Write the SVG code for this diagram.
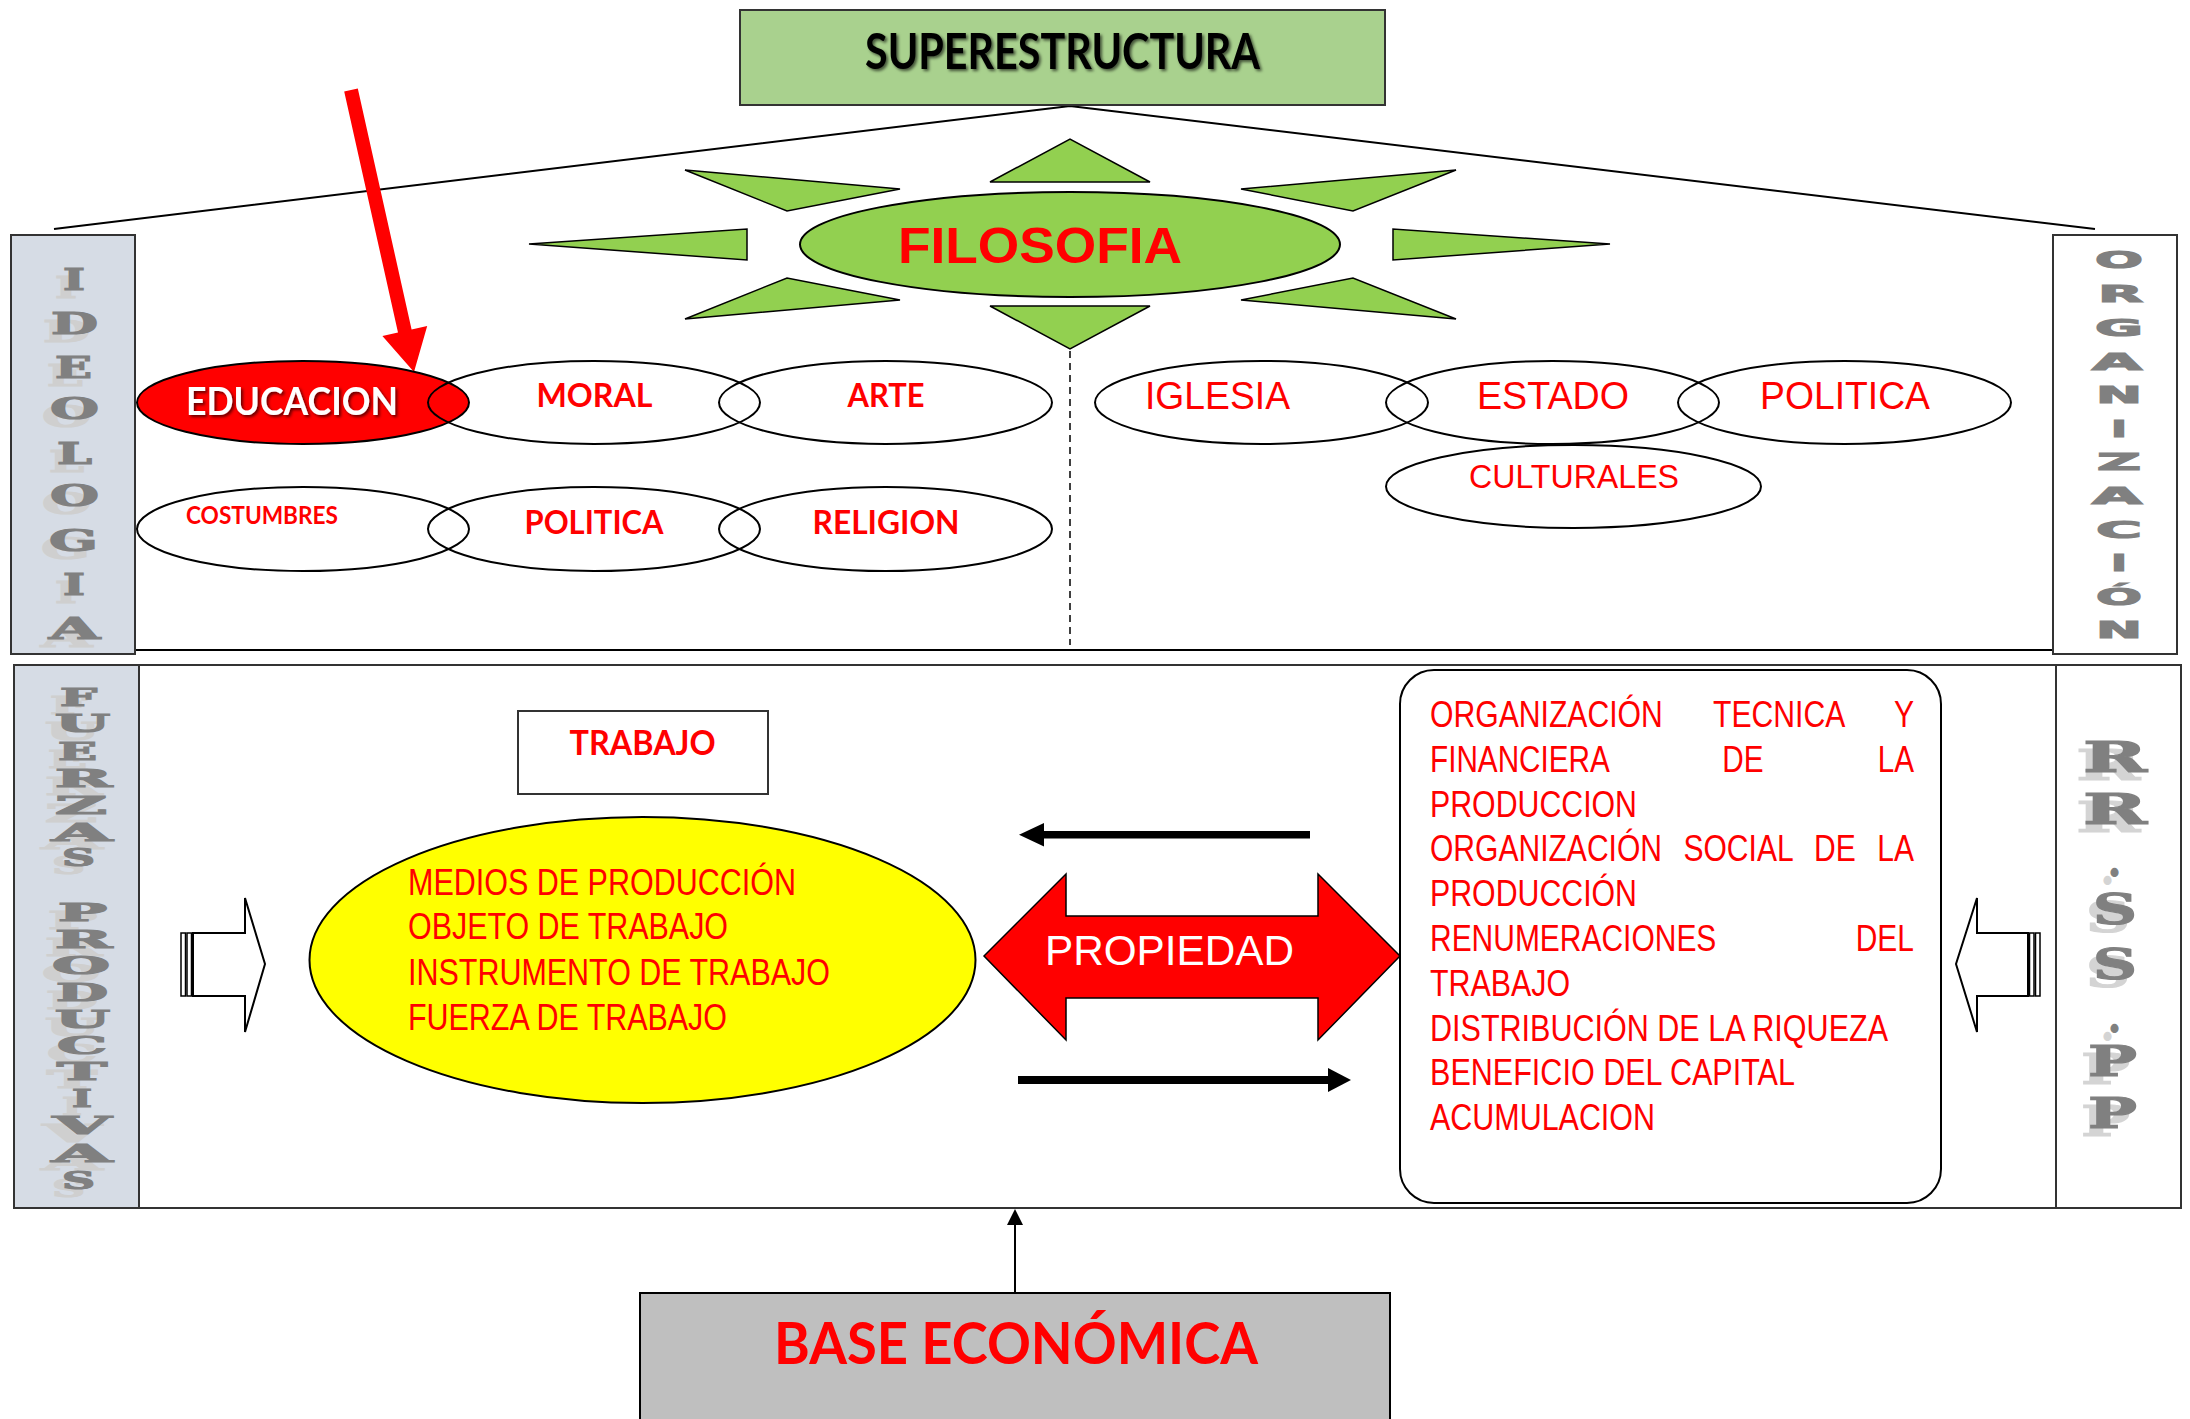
<svg xmlns="http://www.w3.org/2000/svg" xmlns:xlink="http://www.w3.org/1999/xlink" width="2190" height="1419" viewBox="0 0 2190 1419">
<style>
.ln{fill:none;stroke:#000;stroke-width:2}
.el{fill:none;stroke:#000;stroke-width:2}
.ray{fill:#92d050;stroke:#000;stroke-width:1.5;stroke-linejoin:miter}
.cal{font-family:Lato,"Liberation Sans",sans-serif;font-weight:bold}
.ari{font-family:"Liberation Sans",Arial,sans-serif}
.nar{font-family:"Liberation Sans Narrow","Liberation Sans",Arial,sans-serif}
.red{fill:#ff0000}
.slab{font-family:"DejaVu Serif","Liberation Serif",serif;font-weight:bold}
.blk{font-family:"DejaVu Sans","Liberation Sans",sans-serif;font-weight:bold}
</style>
<defs>
<filter id="sh" x="-10%" y="-30%" width="120%" height="160%">
<feDropShadow dx="2" dy="2" stdDeviation="1.5" flood-color="#000" flood-opacity="0.6"/>
</filter>
</defs>
<rect width="2190" height="1419" fill="#fff"/>

<g id="connectors">
<polyline class="ln" points="54,229 1070,106 2095,229"/>
<line x1="1070" y1="351" x2="1070" y2="645" stroke="#000" stroke-width="1.5" stroke-dasharray="7,5"/>
<line x1="135" y1="650" x2="2053" y2="650" stroke="#000" stroke-width="2"/>
<polygon fill="#ff0000" points="344.2,91.5 357.8,88.5 411.6,329.5 427.2,326 414,372 382.4,336 398,332.5"/>
<line x1="1015" y1="1293" x2="1015" y2="1222" stroke="#000" stroke-width="2"/>
<polygon fill="#000" points="1015,1209 1007,1225 1023,1225"/>
<rect x="1042" y="831" width="268" height="7.5" fill="#000"/>
<polygon fill="#000" points="1019,834.7 1044,823 1044,846.5"/>
<rect x="1018" y="1076" width="312" height="8" fill="#000"/>
<polygon fill="#000" points="1328,1068 1351,1080 1328,1092"/>
</g>

<g id="superestructura">
<rect x="740" y="10" width="645" height="95" fill="#a9d18e" stroke="#333" stroke-width="2"/>
<text class="cal" x="865" y="69" font-size="49" textLength="395" lengthAdjust="spacingAndGlyphs" fill="#000" filter="url(#sh)">SUPERESTRUCTURA</text>
</g>

<g id="filosofia">
<polygon class="ray" points="990,182 1070,139 1150,182"/>
<polygon class="ray" points="990,306 1070,349 1150,306"/>
<polygon class="ray" points="529,244 747,229 747,260"/>
<polygon class="ray" points="1610,244 1393,229 1393,260"/>
<polygon class="ray" points="685,170 900,189 787,211"/>
<polygon class="ray" points="685,319 787,278 900,300"/>
<polygon class="ray" points="1456,170 1241,189 1353,211"/>
<polygon class="ray" points="1456,319 1353,278 1241,300"/>
<ellipse cx="1070" cy="244.5" rx="270" ry="52.5" fill="#92d050" stroke="#000" stroke-width="2"/>
<text class="ari red" x="898" y="263" font-size="50" font-weight="bold" textLength="284" lengthAdjust="spacingAndGlyphs">FILOSOFIA</text>
</g>

<g id="ideologia">
<rect x="11" y="235" width="124" height="419" fill="#d6dce5" stroke="#333" stroke-width="2"/>
<use xlink:href="#ideo-letters" href="#ideo-letters" fill="#cfcfcf" stroke="#cfcfcf" transform="translate(-8,8)"/>
<g fill="#808080" stroke="#808080">
<g id="ideo-letters" class="slab" font-size="30" stroke-width="1.2">
<text x="63" y="290" textLength="22" lengthAdjust="spacingAndGlyphs">I</text>
<text x="51" y="334" textLength="47" lengthAdjust="spacingAndGlyphs">D</text>
<text x="55" y="378" textLength="37" lengthAdjust="spacingAndGlyphs">E</text>
<text x="50" y="419" textLength="49" lengthAdjust="spacingAndGlyphs">O</text>
<text x="57" y="464" textLength="35" lengthAdjust="spacingAndGlyphs">L</text>
<text x="50" y="506" textLength="49" lengthAdjust="spacingAndGlyphs">O</text>
<text x="49" y="551" textLength="49" lengthAdjust="spacingAndGlyphs">G</text>
<text x="63" y="595" textLength="22" lengthAdjust="spacingAndGlyphs">I</text>
<text x="49" y="639" textLength="51" lengthAdjust="spacingAndGlyphs">A</text>
</g>
</g>
</g>

<g id="organizacion">
<rect x="2053" y="235" width="124" height="419" fill="#fff" stroke="#333" stroke-width="2"/>
<g class="blk" font-size="23" fill="#808080" stroke="#808080" stroke-width="1.2">
<text x="2095" y="268" textLength="48" lengthAdjust="spacingAndGlyphs">O</text>
<text x="2098" y="302" textLength="45" lengthAdjust="spacingAndGlyphs">R</text>
<text x="2095" y="336" textLength="48" lengthAdjust="spacingAndGlyphs">G</text>
<text x="2092" y="370" textLength="50" lengthAdjust="spacingAndGlyphs">A</text>
<text x="2096" y="403" textLength="46" lengthAdjust="spacingAndGlyphs">N</text>
<text x="2111" y="437" textLength="16" lengthAdjust="spacingAndGlyphs">I</text>
<text x="2097" y="470" textLength="44" lengthAdjust="spacingAndGlyphs">Z</text>
<text x="2092" y="504" textLength="50" lengthAdjust="spacingAndGlyphs">A</text>
<text x="2096" y="538" textLength="46" lengthAdjust="spacingAndGlyphs">C</text>
<text x="2111" y="571" textLength="16" lengthAdjust="spacingAndGlyphs">I</text>
<text x="2096" y="605" textLength="46" lengthAdjust="spacingAndGlyphs">Ó</text>
<text x="2096" y="638" textLength="46" lengthAdjust="spacingAndGlyphs">N</text>
</g>
</g>

<g id="educacion">
<ellipse cx="303" cy="402.5" rx="166" ry="41.5" fill="#ff0000" stroke="#000" stroke-width="2"/>
<text class="cal" x="186" y="414.5" font-size="37.5" textLength="212" lengthAdjust="spacingAndGlyphs" fill="#fff" filter="url(#sh)">EDUCACION</text>
</g>
<g id="moral">
<ellipse class="el" cx="594" cy="402.5" rx="166" ry="41.5"/>
<text class="cal red" x="536.5" y="407" font-size="33" textLength="116" lengthAdjust="spacingAndGlyphs">MORAL</text>
</g>
<g id="arte">
<ellipse class="el" cx="885.5" cy="402.5" rx="166.5" ry="41.5"/>
<text class="cal red" x="847.5" y="407" font-size="33" textLength="77" lengthAdjust="spacingAndGlyphs">ARTE</text>
</g>
<g id="costumbres">
<ellipse class="el" cx="303" cy="529" rx="166" ry="42"/>
<text class="cal red" x="186" y="524" font-size="24" textLength="152" lengthAdjust="spacingAndGlyphs">COSTUMBRES</text>
</g>
<g id="politica-ideologia">
<ellipse class="el" cx="594" cy="529" rx="166" ry="42"/>
<text class="cal red" x="524.5" y="534" font-size="32" textLength="139" lengthAdjust="spacingAndGlyphs">POLITICA</text>
</g>
<g id="religion">
<ellipse class="el" cx="885.5" cy="529" rx="166.5" ry="42"/>
<text class="cal red" x="812.5" y="534" font-size="32" textLength="147" lengthAdjust="spacingAndGlyphs">RELIGION</text>
</g>

<g id="iglesia">
<ellipse class="el" cx="1261.5" cy="402.5" rx="166.5" ry="41.5"/>
<text class="nar red" x="1145" y="409" font-size="38.5" textLength="145" lengthAdjust="spacingAndGlyphs">IGLESIA</text>
</g>
<g id="estado">
<ellipse class="el" cx="1552.5" cy="402.5" rx="166.5" ry="41.5"/>
<text class="nar red" x="1477" y="409" font-size="38.5" textLength="152" lengthAdjust="spacingAndGlyphs">ESTADO</text>
</g>
<g id="politica-organizacion">
<ellipse class="el" cx="1844.5" cy="402.5" rx="166.5" ry="41.5"/>
<text class="nar red" x="1760" y="409" font-size="38.5" textLength="170" lengthAdjust="spacingAndGlyphs">POLITICA</text>
</g>
<g id="culturales">
<ellipse class="el" cx="1573.5" cy="486.5" rx="187.5" ry="41.5"/>
<text class="nar red" x="1469" y="487.5" font-size="33" textLength="210" lengthAdjust="spacingAndGlyphs">CULTURALES</text>
</g>

<g id="panel-inferior">
<rect x="14" y="665" width="2167" height="543" fill="none" stroke="#333" stroke-width="2"/>
</g>

<g id="fuerzas-productivas">
<rect x="14" y="665" width="125" height="543" fill="#d6dce5" stroke="#333" stroke-width="2"/>
<use xlink:href="#fp-letters" href="#fp-letters" fill="#cfcfcf" stroke="#cfcfcf" transform="translate(-10,8)"/>
<g fill="#808080" stroke="#808080">
<g id="fp-letters" class="slab" font-size="24" stroke-width="1.2">
<text x="60" y="705.6" textLength="37" lengthAdjust="spacingAndGlyphs">F</text>
<text x="55" y="731.6" textLength="55" lengthAdjust="spacingAndGlyphs">U</text>
<text x="58" y="759.5" textLength="39" lengthAdjust="spacingAndGlyphs">E</text>
<text x="55" y="786.5" textLength="57" lengthAdjust="spacingAndGlyphs">R</text>
<text x="55" y="813.5" textLength="52" lengthAdjust="spacingAndGlyphs">Z</text>
<text x="52" y="840.5" textLength="60" lengthAdjust="spacingAndGlyphs">A</text>
<text x="62" y="866" textLength="33" lengthAdjust="spacingAndGlyphs">S</text>
<text x="58" y="921.4" textLength="49" lengthAdjust="spacingAndGlyphs">P</text>
<text x="55" y="948.4" textLength="57" lengthAdjust="spacingAndGlyphs">R</text>
<text x="52" y="974.3" textLength="58" lengthAdjust="spacingAndGlyphs">O</text>
<text x="56" y="1000.8" textLength="52" lengthAdjust="spacingAndGlyphs">D</text>
<text x="55" y="1027.8" textLength="55" lengthAdjust="spacingAndGlyphs">U</text>
<text x="57" y="1054.3" textLength="50" lengthAdjust="spacingAndGlyphs">C</text>
<text x="57" y="1079.8" textLength="50" lengthAdjust="spacingAndGlyphs">T</text>
<text x="72" y="1106.8" textLength="20" lengthAdjust="spacingAndGlyphs">I</text>
<text x="53" y="1133.7" textLength="58" lengthAdjust="spacingAndGlyphs">V</text>
<text x="52" y="1161.7" textLength="60" lengthAdjust="spacingAndGlyphs">A</text>
<text x="62" y="1188.7" textLength="33" lengthAdjust="spacingAndGlyphs">S</text>
</g>
</g>
</g>

<g id="rr-ss-pp">
<line x1="2056" y1="665" x2="2056" y2="1208" stroke="#333" stroke-width="2"/>
<use xlink:href="#rr-letters" href="#rr-letters" fill="#d4d4d4" stroke="#d4d4d4" transform="translate(-7,8)"/>
<g fill="#808080" stroke="#808080">
<g id="rr-letters" class="slab" font-size="42" stroke-width="1.2">
<text x="2083" y="772" textLength="64" lengthAdjust="spacingAndGlyphs">R</text>
<text x="2083" y="824" textLength="64" lengthAdjust="spacingAndGlyphs">R</text>
<text x="2108" y="876" textLength="13" lengthAdjust="spacingAndGlyphs">.</text>
<text x="2093" y="924" textLength="44" lengthAdjust="spacingAndGlyphs">S</text>
<text x="2093" y="979" textLength="44" lengthAdjust="spacingAndGlyphs">S</text>
<text x="2108" y="1032" textLength="13" lengthAdjust="spacingAndGlyphs">.</text>
<text x="2088" y="1076" textLength="49" lengthAdjust="spacingAndGlyphs">P</text>
<text x="2088" y="1128" textLength="49" lengthAdjust="spacingAndGlyphs">P</text>
</g>
</g>
</g>

<g id="flecha-izquierda">
<rect x="181" y="933" width="4.5" height="63" fill="#fff" stroke="#000" stroke-width="1.5"/>
<rect x="187" y="933" width="4.5" height="63" fill="#fff" stroke="#000" stroke-width="1.5"/>
<polygon points="193,933 245,933 245,898 265,964 245,1032 245,996 193,996" fill="#fff" stroke="#000" stroke-width="2"/>
</g>
<g id="flecha-derecha">
<rect x="2035.5" y="933" width="4.5" height="63" fill="#fff" stroke="#000" stroke-width="1.5"/>
<rect x="2029.5" y="933" width="4.5" height="63" fill="#fff" stroke="#000" stroke-width="1.5"/>
<polygon points="2028,933 1977,933 1977,898 1956,964 1977,1032 1977,996 2028,996" fill="#fff" stroke="#000" stroke-width="2"/>
</g>

<g id="trabajo">
<rect x="518" y="711" width="250" height="83" fill="#fff" stroke="#333" stroke-width="2"/>
<text class="cal red" x="569.6" y="755" font-size="34" textLength="146" lengthAdjust="spacingAndGlyphs">TRABAJO</text>
</g>

<g id="fuerzas-elementos">
<ellipse cx="642.5" cy="960" rx="333" ry="143" fill="#ffff00" stroke="#000" stroke-width="2"/>
<g class="nar red" font-size="36">
<text x="408" y="895" textLength="388" lengthAdjust="spacingAndGlyphs">MEDIOS DE PRODUCCIÓN</text>
<text x="408" y="939" textLength="320" lengthAdjust="spacingAndGlyphs">OBJETO DE TRABAJO</text>
<text x="408" y="985" textLength="422" lengthAdjust="spacingAndGlyphs">INSTRUMENTO DE TRABAJO</text>
<text x="408" y="1030" textLength="319" lengthAdjust="spacingAndGlyphs">FUERZA DE TRABAJO</text>
</g>
</g>

<g id="propiedad">
<polygon points="984,956 1066,874 1066,916 1318,916 1318,874 1400,956 1318,1040 1318,998 1066,998 1066,1040" fill="#ff0000" stroke="#000" stroke-width="1.5"/>
<text class="ari" x="1045" y="965" font-size="42.5" textLength="249" lengthAdjust="spacingAndGlyphs" fill="#fff">PROPIEDAD</text>
</g>

<g id="relaciones-sociales">
<rect x="1400" y="670" width="541" height="533" rx="34" ry="34" fill="#fff" stroke="#000" stroke-width="2"/>
<g class="red" font-size="37">
<text class="ari" x="1430" y="727" word-spacing="52.1" textLength="484" lengthAdjust="spacingAndGlyphs">ORGANIZACIÓN TECNICA Y</text>
<text class="ari" x="1430" y="771.8" word-spacing="131.9" textLength="484" lengthAdjust="spacingAndGlyphs">FINANCIERA DE LA</text>
<text class="nar" x="1430" y="816.6" textLength="207" lengthAdjust="spacingAndGlyphs">PRODUCCION</text>
<text class="ari" x="1430" y="861.4" word-spacing="16.2" textLength="484" lengthAdjust="spacingAndGlyphs">ORGANIZACIÓN SOCIAL DE LA</text>
<text class="nar" x="1430" y="906.2" textLength="207" lengthAdjust="spacingAndGlyphs">PRODUCCIÓN</text>
<text class="ari" x="1430" y="951" word-spacing="161.8" textLength="484" lengthAdjust="spacingAndGlyphs">RENUMERACIONES DEL</text>
<text class="nar" x="1430" y="995.8" textLength="140" lengthAdjust="spacingAndGlyphs">TRABAJO</text>
<text class="nar" x="1430" y="1040.6" textLength="458" lengthAdjust="spacingAndGlyphs">DISTRIBUCIÓN DE LA RIQUEZA</text>
<text class="nar" x="1430" y="1085.4" textLength="365" lengthAdjust="spacingAndGlyphs">BENEFICIO DEL CAPITAL</text>
<text class="nar" x="1430" y="1130.2" textLength="225" lengthAdjust="spacingAndGlyphs">ACUMULACION</text>
</g>
</g>

<g id="base-economica">
<rect x="640" y="1293" width="750" height="130" fill="#bfbfbf" stroke="#000" stroke-width="2"/>
<text class="cal red" x="774" y="1364" font-size="57" textLength="484" lengthAdjust="spacingAndGlyphs">BASE ECONÓMICA</text>
</g>
</svg>
